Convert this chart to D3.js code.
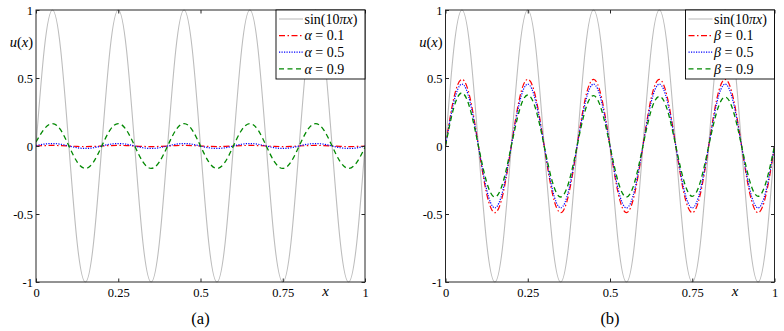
<!DOCTYPE html>
<html>
<head>
<meta charset="utf-8">
<script src="https://cdn.jsdelivr.net/npm/d3@7"></script>
<style>
  body { margin: 0; background: #fff; }
  text { font-family: 'Liberation Serif', 'Times New Roman', serif; fill: #000; }
</style>
</head>
<body>
<div id="chart"></div>
<script>
// sample positions along x
const xs = [0, 0.025, 0.05, 0.075, 0.1, 0.125, 0.15, 0.175, 0.2, 0.225,
  0.25, 0.275, 0.3, 0.325, 0.35, 0.375, 0.4, 0.425, 0.45, 0.475,
  0.5, 0.525, 0.55, 0.575, 0.6, 0.625, 0.65, 0.675, 0.7, 0.725,
  0.75, 0.775, 0.8, 0.825, 0.85, 0.875, 0.9, 0.925, 0.95, 0.975, 1]

// sin(10 pi x)
const sinVals = [0, 0.71, 1, 0.71, 0, -0.71, -1, -0.71,
  0, 0.71, 1, 0.71, 0, -0.71, -1, -0.71,
  0, 0.71, 1, 0.71, 0, -0.71, -1, -0.71,
  0, 0.71, 1, 0.71, 0, -0.71, -1, -0.71,
  0, 0.71, 1, 0.71, 0, -0.71, -1, -0.71, 0]

// panel (a)
const alpha01 = [0, 0.003, 0.004, 0.003, 0, -0.003, -0.004, -0.003,
  0, 0.003, 0.004, 0.003, 0, -0.003, -0.004, -0.003,
  0, 0.003, 0.004, 0.003, 0, -0.003, -0.004, -0.003,
  0, 0.003, 0.004, 0.003, 0, -0.003, -0.004, -0.003,
  0, 0.003, 0.004, 0.003, 0, -0.003, -0.004, -0.003, 0]
const alpha05 = [0.004, 0.014, 0.018, 0.013, 0, -0.013, -0.018, -0.013,
  0, 0.013, 0.018, 0.013, 0, -0.013, -0.018, -0.013,
  0, 0.013, 0.018, 0.013, 0, -0.013, -0.018, -0.013,
  0, 0.013, 0.018, 0.013, 0, -0.013, -0.018, -0.013,
  0, 0.013, 0.018, 0.013, 0, -0.013, -0.018, -0.014, 0]
const alpha09 = [0.03, 0.125, 0.165, 0.118, 0, -0.117, -0.165, -0.117,
  0, 0.117, 0.165, 0.117, 0, -0.117, -0.165, -0.117,
  0, 0.117, 0.165, 0.117, 0, -0.117, -0.165, -0.117,
  0, 0.117, 0.165, 0.117, 0, -0.117, -0.165, -0.117,
  0, 0.117, 0.165, 0.117, 0, -0.117, -0.165, -0.12, -0.01]

// panel (b)
const beta01 = [0, 0.35, 0.49, 0.35, 0, -0.35, -0.49, -0.35,
  0, 0.35, 0.49, 0.35, 0, -0.35, -0.49, -0.35,
  0, 0.35, 0.49, 0.35, 0, -0.35, -0.49, -0.35,
  0, 0.35, 0.49, 0.35, 0, -0.35, -0.49, -0.35,
  0, 0.35, 0.49, 0.35, 0, -0.35, -0.49, -0.35, 0]
const beta05 = [0, 0.32, 0.455, 0.32, 0, -0.32, -0.455, -0.32,
  0, 0.32, 0.455, 0.32, 0, -0.32, -0.455, -0.32,
  0, 0.32, 0.455, 0.32, 0, -0.32, -0.455, -0.32,
  0, 0.32, 0.455, 0.32, 0, -0.32, -0.455, -0.32,
  0, 0.32, 0.455, 0.32, 0, -0.32, -0.455, -0.32, 0]
const beta09 = [0, 0.28, 0.39, 0.27, 0, -0.265, -0.375, -0.265,
  0, 0.265, 0.375, 0.265, 0, -0.265, -0.375, -0.265,
  0, 0.265, 0.37, 0.26, 0, -0.265, -0.375, -0.265,
  0, 0.26, 0.365, 0.26, 0, -0.26, -0.37, -0.26,
  0, 0.255, 0.36, 0.255, 0, -0.26, -0.37, -0.26, 0]

const xTicks = [0, 0.25, 0.5, 0.75, 1]
const xTickLabels = ['0', '0.25', '0.5', '0.75', '1']
const yTicks = [1, 0.5, 0, -0.5, -1]
const yTickLabels = ['1', '0.5', '0', '-0.5', '-1']

const width = 784
const height = 331

const panels = [
  { left: 36, right: 365, caption: '(a)', sym: 'α',
    series: [alpha01, alpha05, alpha09], params: ['0.1', '0.5', '0.9'] },
  { left: 445.5, right: 774.5, caption: '(b)', sym: 'β',
    series: [beta01, beta05, beta09], params: ['0.1', '0.5', '0.9'] }
]

const styles = [
  { color: '#ff0000', dash: '6,2.5,1.5,2.5', w: 1.2 },
  { color: '#0000ff', dash: '1.2,1.3', w: 1.2 },
  { color: '#008800', dash: '5,3.5', w: 1.3 }
]
const grey = '#bdbdbd'

const svg = d3.select('#chart')
  .append('svg')
  .attr('width', width)
  .attr('height', height)

panels.forEach((p, pi) => {
  const xScale = d3.scaleLinear().domain([0, 1]).range([p.left, p.right])
  const yScale = d3.scaleLinear().domain([-1, 1]).range([282, 10])

  const g = svg.append('g')

  const clipId = 'clip' + pi
  g.append('clipPath').attr('id', clipId)
    .append('rect')
    .attr('x', p.left).attr('y', 9)
    .attr('width', p.right - p.left).attr('height', 274)

  const line = d3.line()
    .x((d, i) => xScale(xs[i]))
    .y((d) => yScale(d))
    .curve(d3.curveNatural)

  const plot = g.append('g').attr('clip-path', `url(#${clipId})`)

  plot.append('path')
    .attr('d', line(sinVals))
    .attr('fill', 'none')
    .attr('stroke', grey)
    .attr('stroke-width', 1.1)

  p.series.forEach((s, si) => {
    plot.append('path')
      .attr('d', line(s))
      .attr('fill', 'none')
      .attr('stroke', styles[si].color)
      .attr('stroke-width', styles[si].w)
      .attr('stroke-dasharray', styles[si].dash)
  })

  // axes with inward ticks
  const xAxis = d3.axisBottom(xScale)
    .tickValues(xTicks)
    .tickFormat((d, i) => xTickLabels[i])
    .tickSize(-3.5)
    .tickPadding(6)
  const yAxis = d3.axisLeft(yScale)
    .tickValues(yTicks)
    .tickFormat((d, i) => yTickLabels[i])
    .tickSize(-3.5)
    .tickPadding(3)

  const gx = g.append('g')
    .attr('transform', `translate(0, ${yScale(-1)})`)
    .call(xAxis)
  const gy = g.append('g')
    .attr('transform', `translate(${p.left}, 0)`)
    .call(yAxis)

  // mirrored ticks on top and right
  g.append('g')
    .attr('transform', `translate(0, ${yScale(1)})`)
    .call(d3.axisTop(xScale).tickValues(xTicks).tickSize(-3.5).tickFormat(''))
  g.append('g')
    .attr('transform', `translate(${p.right}, 0)`)
    .call(d3.axisRight(yScale).tickValues(yTicks).tickSize(-3.5).tickFormat(''))

  g.selectAll('.domain').remove()
  g.selectAll('.tick line').attr('stroke', '#262626')
  ;[gx, gy].forEach((a) => a.selectAll('text')
    .style('font-family', "'Liberation Serif', serif")
    .style('font-size', '12.5px')
    .attr('fill', '#000'))

  g.append('rect')
    .attr('x', p.left).attr('y', yScale(1))
    .attr('width', p.right - p.left).attr('height', yScale(-1) - yScale(1))
    .attr('fill', 'none')
    .attr('stroke', '#262626')
    .attr('stroke-width', 1)

  // axis labels
  const yl = g.append('text')
    .attr('x', p.left - 3)
    .attr('y', 47)
    .attr('text-anchor', 'end')
    .style('font-size', '14.5px')
  yl.append('tspan').attr('font-style', 'italic').text('u')
  yl.append('tspan').text('(')
  yl.append('tspan').attr('font-style', 'italic').text('x')
  yl.append('tspan').text(')')

  g.append('text')
    .attr('x', xScale(0.88))
    .attr('y', 296)
    .attr('text-anchor', 'middle')
    .attr('font-style', 'italic')
    .style('font-size', '15px')
    .text('x')

  g.append('text')
    .attr('x', (p.left + p.right) / 2)
    .attr('y', 324)
    .attr('text-anchor', 'middle')
    .style('font-size', '16.5px')
    .text(p.caption)

  // legend
  const lx = p.right - 89
  const legend = g.append('g')
  legend.append('rect')
    .attr('x', lx).attr('y', 10)
    .attr('width', 89).attr('height', 69)
    .attr('fill', '#fff')
    .attr('stroke', '#000')
    .attr('stroke-width', 0.9)

  const rows = [
    { color: grey, dash: null, w: 1.1 },
    ...styles
  ]
  rows.forEach((r, ri) => {
    const ry = 19 + ri * 16.6
    legend.append('line')
      .attr('x1', lx + 3).attr('x2', lx + 27)
      .attr('y1', ry).attr('y2', ry)
      .attr('stroke', r.color)
      .attr('stroke-width', r.w)
      .attr('stroke-dasharray', r.dash)
    const t = legend.append('text')
      .attr('x', lx + 28.5)
      .attr('y', ry + 4.8)
      .style('font-size', '14px')
    if (ri === 0) {
      t.append('tspan').text('sin(10')
      t.append('tspan').attr('font-style', 'italic').text('πx')
      t.append('tspan').text(')')
    } else {
      t.append('tspan').attr('font-style', 'italic').text(p.sym)
      t.append('tspan').text(' = ' + p.params[ri - 1])
    }
  })
})
</script>
</body>
</html>
